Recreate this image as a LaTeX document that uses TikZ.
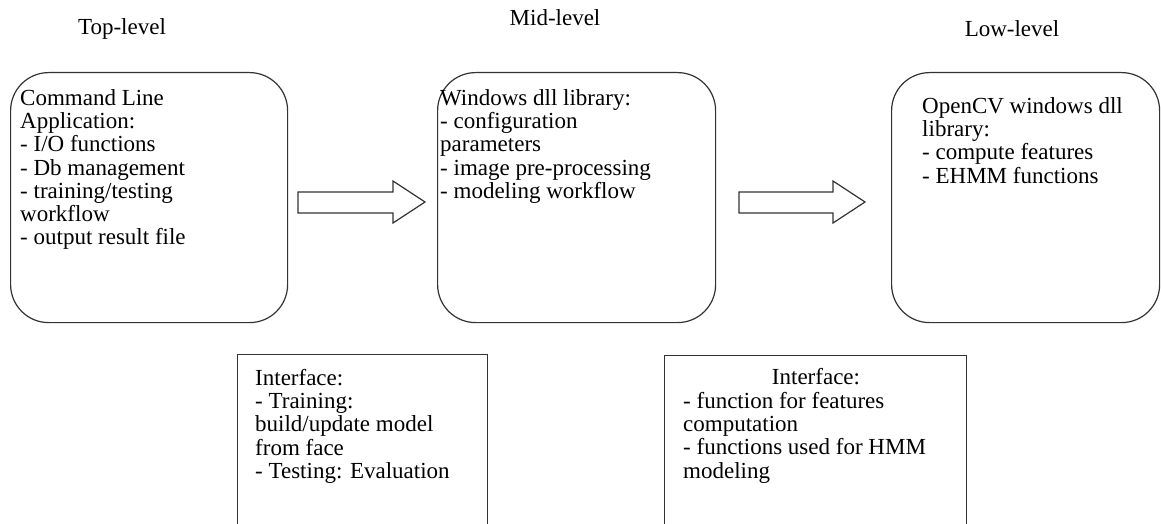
\documentclass[tikz,border=0pt]{standalone}
\usepackage{fontspec}
\setmainfont{Liberation Serif}
\begin{document}
\begin{tikzpicture}[x=1pt,y=-1pt,
  rbox/.style={draw=black!80, line width=1.2pt, rounded corners=38pt, inner sep=0pt, anchor=north west},
  sbox/.style={draw=black!80, line width=1.2pt, inner sep=0pt, anchor=north west},
  txt/.style={font=\fontsize{23}{23.3}\selectfont, align=left, inner sep=0pt, anchor=north west, text=black},
  ttl/.style={font=\fontsize{23}{23.3}\selectfont, inner sep=0pt, anchor=base, text=black},
  blockarrow/.style={draw=black!80, line width=1.2pt, fill=white, line join=miter}]
\useasboundingbox (0,0) rectangle (1161,524);
\clip (0,0) rectangle (1161,524);
% titles
\node[ttl] (h1) at (122,35) {Top-level};
\node[ttl] (h2) at (555,26) {Mid-level};
\node[ttl] (h3) at (1012,37) {Low-level};
% rounded boxes
\node[rbox, minimum width=277pt, minimum height=250pt] (b1) at (10,72) {};
\node[rbox, minimum width=278pt, minimum height=250pt] (b2) at (437,72) {};
\node[rbox, minimum width=268pt, minimum height=250pt] (b3) at (891,72) {};
% interface boxes (open at the bottom edge)
\node[sbox, minimum width=250pt, minimum height=200pt] (i1) at (237,354) {};
\node[sbox, minimum width=302pt, minimum height=200pt] (i2) at (664,355) {};
% texts
\node[txt] (t1) at (20,89) {Command Line\\Application:\\- I/O functions\\- Db management\\- training/testing\\workflow\\- output result file};
\node[txt] (t2) at (440,89) {Windows dll library:\\- configuration\\parameters\\- image pre-processing\\- modeling workflow};
\node[txt] (t3) at (922,97) {OpenCV windows dll\\library:\\- compute features\\- EHMM functions};
\node[txt] (t4) at (255,369) {Interface:\\- Training:\\build/update model\\from face\\- Testing: Evaluation};
\node[ttl] (t5h) at (816,384) {Interface:};
\node[txt] (t5) at (683,392) {- function for features\\computation\\- functions used for HMM\\modeling};
% block arrows
\draw[blockarrow] (298,192) -- (393,192) -- (393,181) -- (425,202) -- (393,223) -- (393,213) -- (298,213) -- cycle;
\draw[blockarrow] (739,192) -- (833,192) -- (833,181) -- (865,202) -- (833,223) -- (833,213) -- (739,213) -- cycle;
\end{tikzpicture}
\end{document}
